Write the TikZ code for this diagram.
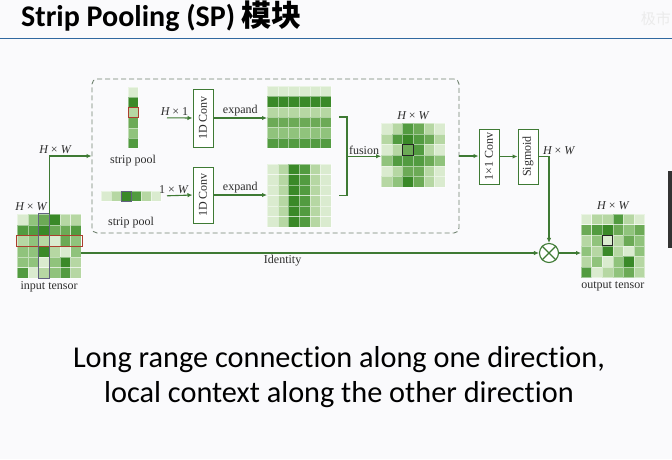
\documentclass[tikz,border=0pt]{standalone}
\usepackage{fontspec}
\usepackage{graphicx}
\setmainfont{Liberation Serif}
\newfontfamily\slidefont{Carlito}[Ligatures=NoCommon]
\newfontfamily\cjk{Noto Sans CJK SC}
\usetikzlibrary{positioning,arrows.meta,calc}

\definecolor{lv1}{RGB}{218,235,207}
\definecolor{lv2}{RGB}{182,215,163}
\definecolor{lv3}{RGB}{144,195,124}
\definecolor{lv4}{RGB}{108,170,86}
\definecolor{lv5}{RGB}{82,155,64}
\definecolor{lv6}{RGB}{58,137,40}
\definecolor{linegreen}{RGB}{62,122,52}
\definecolor{framegray}{RGB}{112,130,112}
\definecolor{poolred}{RGB}{172,62,46}
\definecolor{poolgray}{RGB}{98,98,128}
\definecolor{titleblue}{RGB}{48,104,160}
\definecolor{slidebg}{RGB}{250,250,252}
\definecolor{labelgray}{RGB}{45,45,45}

\newcommand{\HW}{{\itshape H} × {\itshape W}}
% name, top left corner, columns, rows, cell width, cell height, levels row by row
\newcommand{\tensorgrid}[7]{%
	\foreach \cells [count=\r] in {#7} {
		\foreach \lv [count=\c] in \cells {
			\fill[fill=lv\lv, draw=white, draw opacity=0.45, line width=0.3pt, shift={(#2)}]
				({(\c-1)*#5},{(\r-1)*#6}) rectangle ++(#5,#6);
		}
	}
	\node[gridframe, anchor=north west, minimum width={#3*#5pt}, minimum height={#4*#6pt}] (#1) at (#2) {};
}

\begin{document}
\begin{tikzpicture}[x=1pt, y=-1pt,
	font=\fontsize{12}{13}\selectfont,
	every node/.style={inner sep=1.5pt, text=labelgray},
	line/.style={draw=linegreen, line width=1.1pt},
	arr/.style={line, -{Latex[length=5pt,width=4.5pt]}},
	opbox/.style={draw=linegreen, line width=1pt, fill=white, minimum width=20pt, inner sep=0pt},
	gridframe/.style={inner sep=0pt, outer sep=0pt},
	cellbox/.style={line width=1pt}]

\useasboundingbox (0,0) rectangle (672,459);
\fill[slidebg] (0,0) rectangle (672,459);

% Title
\node[anchor=base west, inner sep=0pt, text=black,
	font=\slidefont\bfseries\fontsize{30}{30}\selectfont] (title) at (21,26)
	{Strip Pooling (SP) {\cjk\bfseries 模块}};
\draw[titleblue, line width=1.6pt] (0,38.5) -- (672,38.5);
\node[anchor=east, inner sep=0pt, text=black!8,
	font=\cjk\fontsize{15}{15}\selectfont] (mark) at (671,19) {极市};
\fill[black!80] (668,171) rectangle (672,248);

% Strip pooling block
\node[draw=framegray, dashed, dash pattern=on 5pt off 3pt, line width=0.9pt,
	rounded corners=5pt, minimum width=367pt, minimum height=154pt,
	inner sep=0pt] (spbox) at (275.5,156) {};

% Tensors
\tensorgrid{in}{17,214}{6}{6}{10.7}{10.7}{{1,3,4,6,2,2},{5,5,6,4,4,5},{2,3,2,1,4,3},{3,3,6,2,1,3},{3,3,1,3,6,2},{5,1,2,3,5,2}}
\tensorgrid{vstrip}{128,87}{1}{6}{10}{10.2}{{1},{6},{2},{4},{3},{5}}
\tensorgrid{hstrip}{101,191}{6}{1}{10}{10}{{1,2,6,5,2,1}}
\tensorgrid{hexp}{267,86}{6}{6}{10.67}{10.33}{{1,1,1,1,1,1},{6,6,6,6,6,6},{2,2,2,2,2,2},{4,4,4,4,4,4},{3,3,3,3,3,3},{5,5,5,5,5,5}}
\tensorgrid{vexp}{267,164}{6}{6}{10.67}{10.5}{{1,2,6,5,2,1},{1,2,6,5,2,1},{1,2,6,5,2,1},{1,2,6,5,2,1},{1,2,6,5,2,1},{1,2,6,5,2,1}}
\tensorgrid{fuse}{381,123}{6}{6}{10.67}{10.67}{{1,2,5,4,2,1},{2,5,6,5,4,2},{1,2,4,5,2,1},{3,5,5,5,4,3},{1,2,4,4,2,1},{2,3,6,4,2,1}}
\tensorgrid{out}{581,214}{6}{6}{10.6}{10.6}{{1,2,2,5,2,1},{4,5,6,4,3,4},{2,3,1,2,4,3},{3,2,6,2,1,3},{2,3,1,3,6,2},{5,1,2,3,4,2}}

% Pooled cells
\draw[cellbox, poolred] (16,235.4) rectangle (82.2,246.1);
\draw[cellbox, poolgray] (38.4,213.5) rectangle (49.1,278.7);
\draw[cellbox, poolred] (128,107.4) rectangle (138,117.6);
\draw[cellbox, poolgray] (121,191) rectangle (131,201);
\draw[cellbox, black!85] (402.3,144.3) rectangle (413,155);
\draw[cellbox, black!85] (602.2,235.2) rectangle (612.8,245.8);

% Labels
\node[anchor=south] (inhw) at (31,212) {\HW};
\node[below=2pt of in] (inlabel) {input tensor};
\node[below=5pt of vstrip] (vpool) {strip pool};
\node[below=14pt of hstrip] (hpool) {strip pool};
\node[above=2pt of fuse] (fusehw) {\HW};
\node[above=3pt of out] (outhw) {\HW};
\node[below=2pt of out] (outlabel) {output tensor};

% Operations
\node[opbox, minimum height=58pt] (convH) at (203,118) {\rotatebox{90}{1D Conv}};
\node[opbox, minimum height=56pt] (convW) at (203,195) {\rotatebox{90}{1D Conv}};
\node[opbox, minimum height=55pt] (conv11) at (489,156.5) {\rotatebox{90}{1×1 Conv}};
\node[opbox, minimum height=55pt] (sig) at (528,156.5) {\rotatebox{90}{Sigmoid}};
\node[draw=linegreen, line width=1.1pt, circle, minimum size=19pt,
	inner sep=0pt, fill=white] (mult) at (549,253) {};
\draw[line] (mult.north east) -- (mult.south west)
	(mult.north west) -- (mult.south east);

% connections
\draw[arr] (in.north) |- (spbox.west) node[pos=0.57, above] {\HW};
\draw[arr, shorten <=29pt] (vstrip.east) -- (convH.west)
	node[pos=0.67, above] {{\itshape H} × 1};
\draw[arr, shorten <=6pt] (hstrip.east) -- (convW.west)
	node[pos=0.4, above] {1 × {\itshape W}};
\draw[arr] (convH.east) -- (convH.east -| hexp.west) node[midway, above] {expand};
\draw[arr] (convW.east) -- (convW.east -| vexp.west) node[midway, above] {expand};

\coordinate (fusejoin) at ($(hexp.east)!0.5!(vexp.east)+(16,0)$);
\draw[line] ([xshift=8pt]hexp.east) -| ([xshift=16pt]vexp.east) -- ([xshift=8pt]vexp.east);
\draw[arr] (fusejoin) -- (fusejoin -| fuse.west) node[midway, above] {fusion};

\draw[arr] (spbox.east) -- (spbox.east -| conv11.west);
\draw[arr] (conv11.east) -- (sig.west);
\draw[arr] (sig.east) -| (mult.north)
	node[pos=0.5, above right, xshift=-8pt] {\HW};
\draw[arr] (in.east |- mult) -- (mult.west) node[pos=0.44, below] {Identity};
\draw[arr] (mult.east) -- (mult -| out.west);

% Caption
\node[align=center, text=black, inner sep=0pt,
	font=\slidefont\fontsize{30.3}{35}\selectfont] (caption) at (339,377)
	{Long range connection along one direction,\\local context along the other direction};

\end{tikzpicture}
\end{document}
